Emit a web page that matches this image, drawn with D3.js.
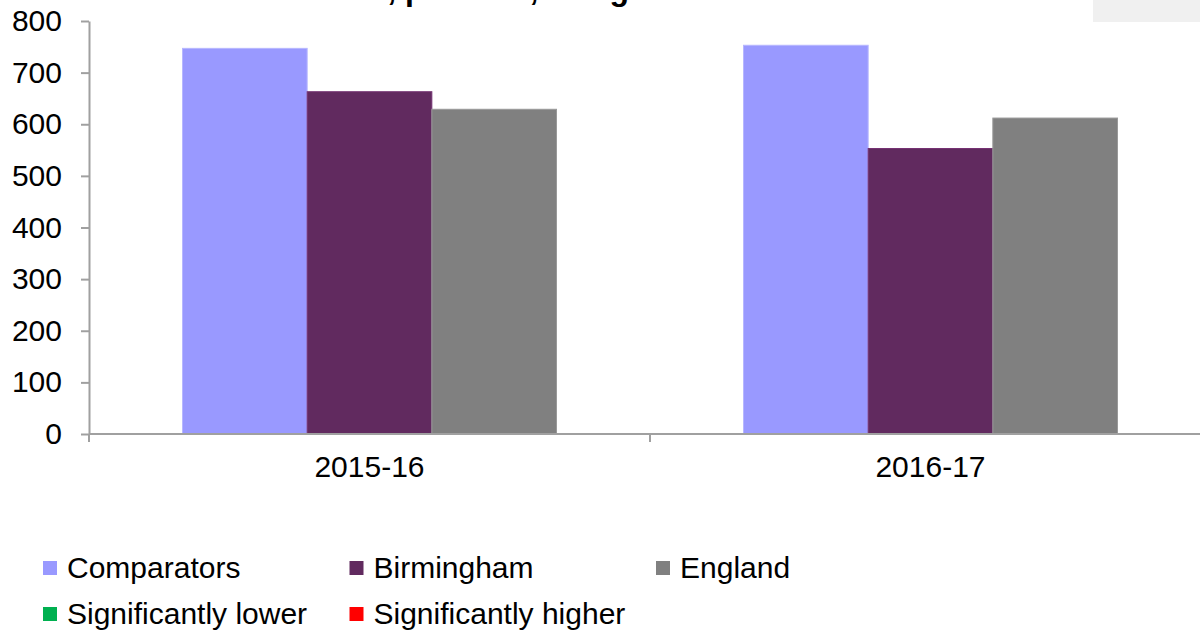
<!DOCTYPE html>
<html>
<head>
<meta charset="utf-8">
<script src="https://cdn.jsdelivr.net/npm/d3@7"></script>
<style>
  body { margin: 0; background: #fff; }
  svg { display: block; font-family: "Liberation Sans", Arial, sans-serif; }
</style>
</head>
<body>
<svg id="chart" width="1200" height="630"></svg>
<script>
// chart data
var categories = ["2015-16", "2016-17"];
var seriesNames = ["Comparators", "Birmingham", "England"];
var comparators = [747, 753];
var birmingham = [663, 553];
var england = [629, 612];
var yTicks = [0, 100, 200, 300, 400, 500, 600, 700, 800];
var legendNames = ["Comparators", "Birmingham", "England", "Significantly lower", "Significantly higher"];
var legendColors = ["#9999ff", "#612a5f", "#808080", "#00b050", "#ff0000"];

var colors = {"Comparators": "#9999ff", "Birmingham": "#612a5f", "England": "#808080"};
var values = {"Comparators": comparators, "Birmingham": birmingham, "England": england};

var svg = d3.select("#chart");

// rows for the bars
var rows = [];
categories.forEach(function(c, i) {
	seriesNames.forEach(function(s) {
		rows.push({cat: c, series: s, value: values[s][i]});
	});
});

var x = d3.scaleBand()
	.domain(categories)
	.range([89, 1211])
	.paddingInner(1/3)
	.paddingOuter(1/6);

var xs = d3.scaleBand()
	.domain(seriesNames)
	.range([0, x.bandwidth()]);

var y = d3.scaleLinear()
	.domain([0, 800])
	.range([434, 21]);

// title, mostly cut off above the frame
svg.append("text")
	.attr("x", 156)
	.attr("y", 0)
	.attr("font-size", 32)
	.attr("font-weight", "bold")
	.attr("fill", "#000")
	.text("Admission rate, persons, all ages");

svg.append("rect")
	.attr("x", 1093).attr("y", 0)
	.attr("width", 107).attr("height", 22)
	.attr("fill", "#f0f0f0");

// bars
svg.append("g").selectAll("rect")
	.data(rows)
	.join("rect")
	.attr("x", function(d) { return x(d.cat) + xs(d.series); })
	.attr("y", function(d) { return y(d.value); })
	.attr("width", xs.bandwidth())
	.attr("height", function(d) { return y(0) - y(d.value); })
	.attr("fill", function(d) { return colors[d.series]; })
	.attr("stroke", function(d) { return d3.color(colors[d.series]).brighter(0.5); })
	.attr("stroke-width", 1);

// y axis
var yAxis = svg.append("g")
	.attr("transform", "translate(89,0)")
	.call(d3.axisLeft(y).tickValues(yTicks).tickSize(8).tickPadding(19).tickSizeOuter(0));

// x axis: ticks on category boundaries
var xAxis = svg.append("g")
	.attr("transform", "translate(0,434)");
xAxis.append("line")
	.attr("x1", 89).attr("x2", 1200)
	.attr("y1", 0).attr("y2", 0);
xAxis.selectAll(".cat-tick")
	.data(categories)
	.join("line")
	.attr("class", "cat-tick")
	.attr("x1", function(d) { return x(d) - x.step() * x.paddingInner() / 2 - x.step() / 6 * 0; })
	.attr("x2", function(d) { return x(d) - x.step() * x.paddingInner() / 2; })
	.attr("y1", 0).attr("y2", 8);
xAxis.selectAll(".cat-label")
	.data(categories)
	.join("text")
	.attr("class", "cat-label")
	.attr("x", function(d) { return x(d) + x.bandwidth() / 2; })
	.attr("y", 43)
	.attr("text-anchor", "middle")
	.attr("font-size", 30)
	.attr("fill", "#000")
	.text(function(d) { return d; });

[yAxis, xAxis].forEach(function(g) {
	g.select(".domain").attr("stroke", "#a0a0a0").attr("stroke-width", 2);
	g.selectAll("line").attr("stroke", "#a0a0a0").attr("stroke-width", 2);
	g.selectAll(".tick text").attr("font-size", 30).attr("fill", "#000")
		.attr("font-family", "'Liberation Sans', Arial, sans-serif");
});

// legend
var legend = svg.append("g").selectAll("g")
	.data(legendNames)
	.join("g")
	.attr("transform", function(d, i) {
		return "translate(" + (43 + (i % 3) * 306.5) + "," + (561 + Math.floor(i / 3) * 46) + ")";
	});
legend.append("rect")
	.attr("width", 14).attr("height", 14)
	.attr("fill", function(d, i) { return legendColors[i]; });
legend.append("text")
	.attr("x", 24)
	.attr("y", 17)
	.attr("font-size", 30)
	.attr("fill", "#000")
	.text(function(d) { return d; });
</script>
</body>
</html>
